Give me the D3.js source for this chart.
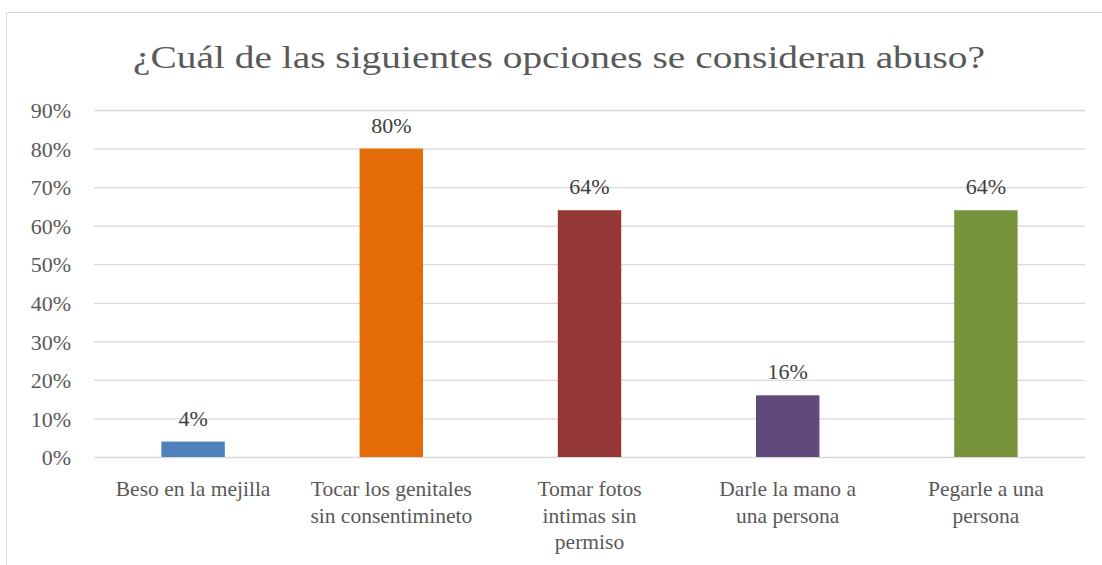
<!DOCTYPE html>
<html><head><meta charset="utf-8">
<script src="https://cdn.jsdelivr.net/npm/d3@7"></script>
<style>body{margin:0;background:#fff}svg{display:block}</style>
</head><body>
<script>
const categories = [["Beso en la mejilla"],["Tocar los genitales","sin consentimineto"],["Tomar fotos","intimas sin","permiso"],["Darle la mano a","una persona"],["Pegarle a una","persona"]];
const values = [0.04, 0.80, 0.64, 0.16, 0.64];
const colors = ["#4f81bd","#e36c09","#953735","#604a7b","#77933c"];
const yTicks = [0,0.1,0.2,0.3,0.4,0.5,0.6,0.7,0.8,0.9];
const title = "¿Cuál de las siguientes opciones se consideran abuso?";

(function(){
const W=1102,H=565;
const font="'Liberation Serif', serif";
const svg=d3.select("body").append("svg").attr("width",W).attr("height",H);
svg.append("rect").attr("x",6.5).attr("y",12.5).attr("width",W+20).attr("height",H+20)
  .attr("fill","none").attr("stroke","#d9d9d9").attr("stroke-width",1);

const pL=94,pR=1085,pT=110,pB=457;
const x=d3.scaleBand().domain(d3.range(values.length)).range([pL,pR]).paddingInner(0.68).paddingOuter(0.34);
const y=d3.scaleLinear().domain([0,0.9]).range([pB,pT]);

svg.append("text").attr("x",559).attr("y",68).attr("text-anchor","middle")
  .attr("font-family",font).attr("font-size",32).attr("fill","#595959")
  .attr("textLength",852).attr("lengthAdjust","spacingAndGlyphs").text(title);

const ya=svg.append("g").attr("transform",`translate(${pL},0)`)
  .call(d3.axisLeft(y).tickValues(yTicks).tickFormat(d3.format(".0%")).tickSize(-(pR-pL)).tickPadding(23));
ya.select(".domain").remove();
ya.selectAll(".tick line").attr("stroke","#d9d9d9").attr("stroke-width",1.3);
ya.selectAll(".tick text").attr("font-family",font).attr("font-size",22).attr("fill","#595959")
  .attr("dy","0.35em");

svg.selectAll("rect.bar").data(values).join("rect").attr("class","bar")
  .attr("x",(d,i)=>x(i)).attr("width",x.bandwidth())
  .attr("y",d=>y(d)).attr("height",d=>y(0)-y(d)).attr("fill",(d,i)=>colors[i]);

svg.selectAll("text.lbl").data(values).join("text").attr("class","lbl")
  .attr("x",(d,i)=>x(i)+x.bandwidth()/2).attr("y",d=>y(d)-16).attr("text-anchor","middle")
  .attr("font-family",font).attr("font-size",22).attr("fill","#404040").text(d3.format(".0%"));

const cg=svg.selectAll("text.cat").data(categories).join("text").attr("class","cat")
  .attr("x",(d,i)=>x(i)+x.bandwidth()/2).attr("y",496).attr("text-anchor","middle")
  .attr("font-family",font).attr("font-size",21.5).attr("fill","#595959");
cg.each(function(d,i){
  const t=d3.select(this);
  d.forEach((line,j)=>t.append("tspan").attr("x",x(i)+x.bandwidth()/2).attr("dy",j?26.5:0).text(line));
});
})();
</script>
</body></html>
